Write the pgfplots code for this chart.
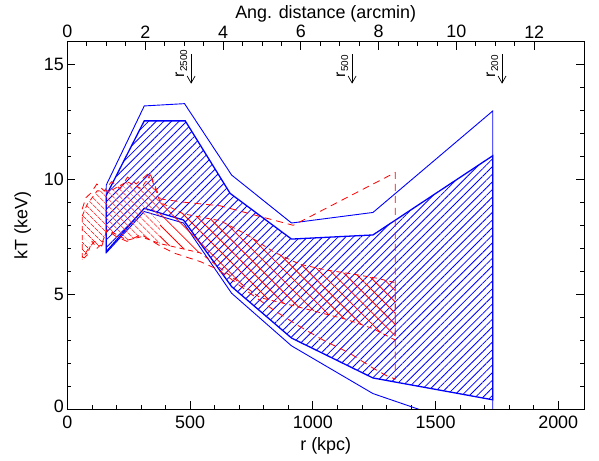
\documentclass[border=0pt]{standalone}
\usepackage{pgfplots}
\pgfplotsset{compat=1.18}
\usepackage{fontspec}
\setmainfont{Liberation Sans}
\usetikzlibrary{patterns.meta,arrows.meta}

\begin{document}
\begin{tikzpicture}
\pgfplotsset{
  every axis/.append style={
    scale only axis, width=517bp, height=367.6bp,
    font=\fontsize{18}{20}\selectfont,
    /pgf/number format/assume math mode=true,
    /pgf/number format/set thousands separator={},
    axis line style={line width=0.8bp},
    major tick length=8bp, minor tick length=4bp,
    every tick/.style={black, line width=0.8bp},
    tick align=inside,
  }
}
\begin{axis}[
  name=main,
  xmin=0, xmax=2105, ymin=0, ymax=16,
  xtick={0,500,1000,1500,2000}, minor x tick num=4,
  ytick={0,5,10,15}, minor y tick num=4,
  xtick pos=left, xticklabel pos=left,
  ytick pos=both, yticklabel pos=left,
  yticklabels={\raisebox{5bp}{0},5,10,15},
  xticklabel style={yshift=-4bp},
]
% outer blue envelope
\addplot[blue, line width=0.9bp] coordinates {
 (158,9.75) (313,13.2) (477,13.3) (669,10.19) (913,8.1) (1245,8.56) (1733,12.98)
 (1733,-1.12) (1245,0.67) (913,2.75) (669,5.04) (473,8.1) (313,8.6) (158,6.8) (158,9.75)};
% inner hatched blue band
\addplot[blue, line width=1.3bp, pattern={Lines[angle=45,distance=5.4bp,line width=0.8bp]}, pattern color=blue] coordinates {
 (158,9.3) (313,12.55) (480,12.55) (663,9.39) (913,7.40) (1245,7.58) (1733,11.03)
 (1733,0.40) (1245,1.35) (913,3.09) (669,5.33) (473,8.23) (313,8.74) (158,6.85) (158,9.3)};
% red hatched band: left part
\addplot[draw=none, pattern={Lines[angle=-45,distance=5.2bp,line width=0.8bp]}, pattern color=red] coordinates {
 (60,8.4) (80,8.9) (121,9.5) (175,9.5) (243,9.9) (300,9.6) (337,10.2) (378,9.0)
 (378,7.2) (300,7.5) (243,7.35) (200,7.6) (161,7.8) (140,7.2) (121,7.0) (100,7.3) (80,6.7) (60,6.5) (60,8.4)};
% red hatched band: right part
\addplot[draw=none, pattern={Lines[angle=-45,distance=8bp,line width=0.8bp]}, pattern color=red] coordinates {
 (378,9.0) (473,8.5) (622,8.2) (730,7.6) (839,6.85) (947,6.3) (1056,6.05) (1150,5.9) (1259,5.7) (1336,5.5)
 (1336,3.0) (1245,3.5) (1137,3.9) (1028,4.2) (920,4.5) (785,4.85) (676,5.7) (541,6.8) (460,7.0) (378,7.2) (378,9.0)};
% red hatched band outline (dashed)
\addplot[red, line width=0.8bp, dash pattern=on 5bp off 4bp] coordinates {
 (60,8.4) (80,8.9) (121,9.5) (175,9.5) (243,9.9) (300,9.6) (337,10.2) (378,9.0)
 (473,8.5) (622,8.2) (730,7.6) (839,6.85) (947,6.3) (1056,6.05) (1150,5.9) (1259,5.7) (1336,5.5)
 (1336,3.0) (1245,3.5) (1137,3.9) (1028,4.2) (920,4.5) (785,4.85) (676,5.7) (541,6.8) (460,7.0) (378,7.2)
 (300,7.5) (243,7.35) (200,7.6) (161,7.8) (140,7.2) (121,7.0) (100,7.3) (80,6.7) (60,6.5) (60,8.4)};
% red outer envelope (dashed)
\addplot[red, line width=0.8bp, dash pattern=on 7bp off 5bp] coordinates {
 (60,8.7) (75,9.2) (95,9.4) (120,9.8) (150,9.5) (180,9.9) (215,9.6) (245,10.1) (280,9.8) (335,10.3)
 (378,9.15) (480,9.0) (622,8.85) (920,8.0) (1336,10.3)
 (1336,1.3) (1300,1.45) (1245,1.78) (1150,2.43) (1042,3.0) (934,3.67) (839,4.32) (744,5.04) (649,5.8)
 (608,6.1) (541,6.42) (432,6.8) (378,7.1) (300,7.6) (243,7.3) (200,7.5) (161,7.8) (140,7.1) (110,7.3) (80,6.9) (60,6.5)};
% radius markers
\draw[-{Straight Barb[length=7bp,width=8bp]}, line width=0.7bp] (axis cs:504,15.45) -- (axis cs:504,14.17);
\draw[-{Straight Barb[length=7bp,width=8bp]}, line width=0.7bp] (axis cs:1160,15.45) -- (axis cs:1160,14.17);
\draw[-{Straight Barb[length=7bp,width=8bp]}, line width=0.7bp] (axis cs:1771,15.45) -- (axis cs:1771,14.17);
\node[rotate=90, anchor=base west, inner sep=0, font=\fontsize{16}{16}\selectfont] at ([xshift=-7bp]axis cs:504,14.45) {r\raisebox{-3bp}{\fontsize{10}{10}\selectfont 2500}};
\node[rotate=90, anchor=base west, inner sep=0, font=\fontsize{16}{16}\selectfont] at ([xshift=-7bp]axis cs:1160,14.45) {r\raisebox{-3bp}{\fontsize{10}{10}\selectfont 500}};
\node[rotate=90, anchor=base west, inner sep=0, font=\fontsize{16}{16}\selectfont] at ([xshift=-7bp]axis cs:1771,14.45) {r\raisebox{-3bp}{\fontsize{10}{10}\selectfont 200}};
\end{axis}
\begin{axis}[
  xmin=0, xmax=13.28, ymin=0, ymax=16,
  axis x line*=top, hide y axis,
  xtick={0,2,4,6,8,10,12}, minor x tick num=3,
  xticklabel pos=right,
]
\addplot[draw=none] coordinates {(1,1)};
\end{axis}
\node[anchor=north, inner sep=0, font=\fontsize{18}{20}\selectfont] at ([yshift=-28.7bp]main.south) {r (kpc)};
\node[anchor=base, inner sep=0, font=\fontsize{18}{20}\selectfont] at ([yshift=23bp]main.north) {Ang. distance (arcmin)};
\node[rotate=90, anchor=base, inner sep=0, font=\fontsize{18}{20}\selectfont] at ([xshift=-40bp]main.west) {kT (keV)};
\pgfresetboundingbox
\path[use as bounding box] ([xshift=-67.5bp,yshift=-51.7bp]main.south west) rectangle ([xshift=15bp,yshift=41.7bp]main.north east);
\end{tikzpicture}
\end{document}
